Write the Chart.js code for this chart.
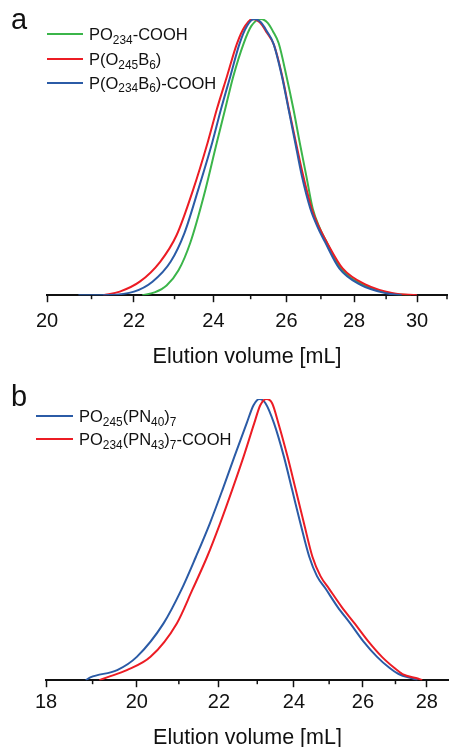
<!DOCTYPE html>
<html>
<head>
<meta charset="utf-8">
<script src="https://cdn.jsdelivr.net/npm/chart.js@4.4.0/dist/chart.umd.min.js"></script>
<style>
html,body{margin:0;padding:0;background:#fff;overflow:hidden}
body{width:449px;height:747px;position:relative;font-family:"Liberation Sans",Arial,sans-serif;color:#111}
.box{position:absolute;left:0}
.tag{position:absolute;font-size:29px;line-height:28px}
.row{position:absolute;font-size:16.5px;line-height:20px;white-space:nowrap}
.row i{display:inline-block;height:2px;vertical-align:middle;position:relative;top:-1.7px;margin-right:6px}
sub{font-size:0.72em;vertical-align:baseline;position:relative;top:0.28em;line-height:0}
</style>
</head>
<body>
<div class="box" style="top:0"><canvas id="chartA" width="449" height="375"></canvas></div>
<div class="box" style="top:375px"><canvas id="chartB" width="449" height="380"></canvas></div>
<div class="tag" style="left:11px;top:5px">a</div>
<div class="tag" style="left:11px;top:382px">b</div>
<div id="legA"></div>
<div id="legB"></div>
<script>
// panel a  (elution volume in mL, normalised RI signal)
const aGreenX = [22.2, 22.5, 22.8, 23.1, 23.4, 23.75, 24.09, 24.31, 24.53, 24.81, 25.02, 25.28, 25.47, 25.62, 25.78, 26.0, 26.2, 26.38, 26.57, 26.76, 26.96, 27.18, 27.6, 28.3, 29.1, 29.8];
const aGreenY = [0, 0.01, 0.035, 0.09, 0.19, 0.36, 0.553, 0.673, 0.793, 0.912, 0.975, 1.0, 0.986, 0.955, 0.912, 0.793, 0.673, 0.553, 0.433, 0.313, 0.245, 0.19, 0.097, 0.037, 0.007, 0];
const aRedX = [21.27, 21.66, 22.14, 22.64, 23.05, 23.48, 23.85, 24.09, 24.36, 24.63, 24.85, 25.05, 25.25, 25.45, 25.65, 25.88, 26.07, 26.27, 26.48, 26.73, 26.95, 27.17, 27.65, 28.38, 29.22, 30.0];
const aRedY = [0, 0.013, 0.049, 0.121, 0.217, 0.385, 0.553, 0.673, 0.793, 0.912, 0.975, 1.0, 0.988, 0.95, 0.905, 0.793, 0.673, 0.553, 0.433, 0.313, 0.245, 0.193, 0.097, 0.037, 0.007, 0];
const aBlueX = [20.7, 21.4, 22.0, 22.45, 22.9, 23.25, 23.61, 23.97, 24.2, 24.45, 24.7, 24.9, 25.1, 25.28, 25.45, 25.63, 25.87, 26.06, 26.25, 26.44, 26.69, 26.91, 27.12, 27.55, 28.2, 29.0, 29.5];
const aBlueY = [0, 0.001, 0.013, 0.049, 0.121, 0.225, 0.385, 0.553, 0.673, 0.793, 0.912, 0.975, 1.0, 0.988, 0.955, 0.912, 0.793, 0.673, 0.553, 0.433, 0.313, 0.245, 0.193, 0.097, 0.037, 0.007, 0];
const aNames = ['PO<sub>234</sub>-COOH', 'P(O<sub>245</sub>B<sub>6</sub>)', 'P(O<sub>234</sub>B<sub>6</sub>)-COOH'];
const aTicks = [20, 22, 24, 26, 28, 30];
const aMinor = [21, 23, 25, 27, 29, 31];

// panel b
const bBlueX = [18.85, 18.95, 19.55, 20.0, 20.63, 21.06, 21.42, 21.77, 22.09, 22.4, 22.72, 22.9, 23.06, 23.22, 23.45, 23.72, 23.95, 24.18, 24.43, 24.65, 24.9, 25.25, 25.62, 26.0, 26.43, 26.8, 27.1, 27.57, 27.7];
const bBlueY = [0, 0.01, 0.036, 0.083, 0.202, 0.321, 0.439, 0.558, 0.677, 0.796, 0.914, 0.978, 1.0, 0.985, 0.914, 0.796, 0.677, 0.558, 0.439, 0.37, 0.325, 0.26, 0.202, 0.14, 0.083, 0.045, 0.022, 0.005, 0];
const bRedX = [19.15, 19.32, 19.77, 20.32, 20.95, 21.33, 21.7, 22.03, 22.34, 22.64, 22.92, 23.08, 23.25, 23.4, 23.57, 23.82, 24.05, 24.28, 24.52, 24.75, 25.0, 25.37, 25.75, 26.15, 26.58, 26.95, 27.22, 27.73, 27.85];
const bRedY = [0, 0.01, 0.036, 0.083, 0.202, 0.321, 0.439, 0.558, 0.677, 0.796, 0.914, 0.978, 1.0, 0.985, 0.914, 0.796, 0.677, 0.558, 0.439, 0.37, 0.325, 0.26, 0.202, 0.14, 0.083, 0.045, 0.022, 0.005, 0];
const bNames = ['PO<sub>245</sub>(PN<sub>40</sub>)<sub>7</sub>', 'PO<sub>234</sub>(PN<sub>43</sub>)<sub>7</sub>-COOH'];
const bTicks = [18, 20, 22, 24, 26, 28];
const bMinor = [19, 21, 23, 25, 27];

const GREEN = '#3bb54a', RED = '#ec1c24', BLUE = '#2b5ba6';
Chart.defaults.font.family = '"Liberation Sans", Arial, sans-serif';
Chart.defaults.color = '#111';

const pts = (xs, ys) => xs.map((x, i) => ({x: x, y: ys[i]}));
const line = (xs, ys, col, ord) => ({
  data: pts(xs, ys), borderColor: col, borderWidth: 2, pointRadius: 0,
  cubicInterpolationMode: 'monotone', fill: false, order: ord
});

// short minor tick marks below the axis
const minorTicks = {
  id: 'minorTicks',
  afterDraw(chart, args, opts) {
    const ctx = chart.ctx, sx = chart.scales.x;
    ctx.save();
    ctx.strokeStyle = '#111';
    ctx.lineWidth = 1.5;
    opts.values.forEach(v => {
      const px = sx.getPixelForValue(v);
      ctx.beginPath();
      ctx.moveTo(px, sx.top);
      ctx.lineTo(px, sx.top + 4);
      ctx.stroke();
    });
    ctx.restore();
  }
};

function makeChart(id, datasets, min, max, ticks, minor, pad, tickPad, titleTop) {
  return new Chart(document.getElementById(id), {
    type: 'line',
    data: {datasets: datasets},
    plugins: [minorTicks],
    options: {
      responsive: false,
      animation: false,
      layout: {padding: pad},
      plugins: {legend: {display: false}, tooltip: {enabled: false}, minorTicks: {values: minor}},
      scales: {
        x: {
          type: 'logarithmic', min: min, max: max,
          afterBuildTicks: s => { s.ticks = ticks.map(v => ({value: v})); },
          ticks: {autoSkip: false, maxRotation: 0, padding: tickPad, font: {size: 20}, color: '#111', callback: v => String(v)},
          grid: {drawOnChartArea: false, drawTicks: true, tickLength: 7, tickWidth: 1.5, tickColor: '#111'},
          border: {display: true, color: '#111', width: 2},
          title: {display: true, text: 'Elution volume [mL]', font: {size: 21.5}, color: '#111', padding: {top: titleTop, bottom: 0}}
        },
        y: {display: false, min: 0, max: 1}
      }
    }
  });
}

makeChart('chartA', [
  line(aGreenX, aGreenY, GREEN, 3),
  line(aRedX, aRedY, RED, 2),
  line(aBlueX, aBlueY, BLUE, 1)
], 20, 31.0, aTicks, aMinor, {left: 47, right: 2, top: 19, bottom: 5}, 7, 4);

makeChart('chartB', [
  line(bBlueX, bBlueY, BLUE, 2),
  line(bRedX, bRedY, RED, 1)
], 18, 28.73, bTicks, bMinor, {left: 46, right: 0, top: 24, bottom: 4}, 3, 8);

// legends with subscripts
function legend(el, names, cols, left, tops, w) {
  names.forEach((n, i) => {
    const d = document.createElement('div');
    d.className = 'row';
    d.style.left = left + 'px';
    d.style.top = tops[i] + 'px';
    d.innerHTML = '<i style="width:' + w + 'px;background:' + cols[i] + '"></i>' + n;
    el.appendChild(d);
  });
}
legend(document.getElementById('legA'), aNames, [GREEN, RED, BLUE], 47, [24.3, 49.3, 72.6], 36);
legend(document.getElementById('legB'), bNames, [BLUE, RED], 36, [406.3, 429.3], 37);
</script>
</body>
</html>
